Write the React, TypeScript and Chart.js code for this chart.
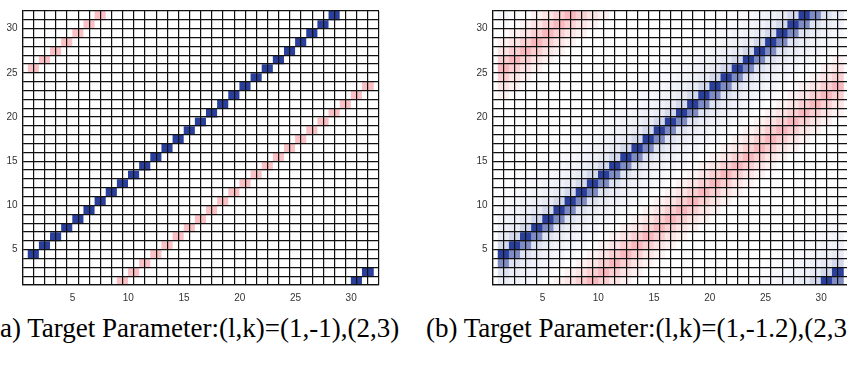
import React, { useEffect, useRef } from 'react';
import { Chart, registerables } from 'chart.js';

Chart.register(...registerables);

// ---------- data ----------
const matrixSize = 32;
const gridValues = [1, 2, 3, 4, 5, 6, 7, 8, 9, 10, 11, 12, 13, 14, 15, 16, 17, 18, 19, 20, 21, 22, 23, 24, 25, 26, 27, 28, 29, 30, 31, 32];
const tickLabels = [5, 10, 15, 20, 25, 30];

// panel (a): one cell per band, located at (row - column) mod 32 = centre
const blueCenter = 3;
const pinkCenter = 24;
const blueOffsetsA = [0];
const blueValuesA = [-2];
const pinkOffsetsA = [0];
const pinkValuesA = [1];

// panel (b): spread bands, value per offset from the band centre
const blueOffsetsB = [-6, -5, -4, -3, -2, -1, 0, 1, 2, 3, 4, 5, 6, 7];
const blueValuesB = [-0.05, -0.09, -0.13, -0.19, -0.3, -1.2, -2, -0.4, -0.22, -0.15, -0.11, -0.07, -0.05, -0.03];
const pinkOffsetsB = [-3, -2, -1, 0, 1, 2, 3];
const pinkValuesB = [0.22, 0.42, 0.74, 1.12, 0.74, 0.42, 0.22];

const titleA = '(a) Target Parameter:(l,k)=(1,-1),(2,3)';
const titleB = '(b) Target Parameter:(l,k)=(1,-1.2),(2,3)';

// ---------- colour map ----------
const colorNeg = [42, 62, 155];
const colorPos = [245, 129, 137];
const colorLimit = 2;

function toColor(v: number): string {
  const t = Math.min(1, Math.abs(v) / colorLimit);
  const end = v < 0 ? colorNeg : colorPos;
  const c = end.map((e) => Math.round(255 + t * (e - 255)));
  return `rgb(${c[0]},${c[1]},${c[2]})`;
}

type Band = { center: number; offsets: number[]; values: number[] };

function buildMatrix(bands: Band[]): number[][] {
  const m: number[][] = [];
  for (let y = 1; y <= matrixSize; y++) {
    const row: number[] = [];
    for (let x = 1; x <= matrixSize; x++) {
      const d = (((y - x) % matrixSize) + matrixSize) % matrixSize;
      let v = 0;
      for (const b of bands) {
        let rel = d - b.center;
        rel = ((((rel + matrixSize / 2) % matrixSize) + matrixSize) % matrixSize) - matrixSize / 2;
        const k = b.offsets.indexOf(rel);
        if (k >= 0) v += b.values[k];
      }
      row.push(v);
    }
    m.push(row);
  }
  return m;
}

const matrixA = buildMatrix([
  { center: blueCenter, offsets: blueOffsetsA, values: blueValuesA },
  { center: pinkCenter, offsets: pinkOffsetsA, values: pinkValuesA },
]);
const matrixB = buildMatrix([
  { center: blueCenter, offsets: blueOffsetsB, values: blueValuesB },
  { center: pinkCenter, offsets: pinkOffsetsB, values: pinkValuesB },
]);

const CANVAS_W = 382;
const CANVAS_H = 305;

function axis(isX: boolean) {
  return {
    type: 'linear' as const,
    min: gridValues[0],
    max: gridValues[gridValues.length - 1],
    afterBuildTicks: (s: any) => {
      s.ticks = gridValues.map((v) => ({ value: v }));
    },
    afterFit: (s: any) => {
      if (isX) s.height = 20;
      else s.width = 22.5;
    },
    ticks: {
      autoSkip: false,
      maxRotation: 0,
      minRotation: 0,
      padding: isX ? 7 : 5,
      color: '#333333',
      font: { family: 'Liberation Sans', size: 10 },
      callback: (v: any) => (tickLabels.includes(Number(v)) ? String(v) : ''),
    },
    grid: { color: '#111111', lineWidth: 1.2, drawTicks: false, z: 1 },
    border: { display: true, color: '#111111', width: 1.2, z: 1 },
  };
}

function Panel({ matrix, left }: { matrix: number[][]; left: number }) {
  const ref = useRef<HTMLCanvasElement | null>(null);
  useEffect(() => {
    if (!ref.current) return;
    const data: any[] = [];
    const colors: string[] = [];
    for (let y = 1; y < matrixSize; y++) {
      for (let x = 1; x < matrixSize; x++) {
        data.push({ x: x + 0.5, y: [y, y + 1] });
        colors.push(toColor(matrix[y - 1][x - 1]));
      }
    }
    const chart = new Chart(ref.current, {
      type: 'bar',
      data: {
        datasets: [
          {
            data,
            backgroundColor: colors,
            borderWidth: 0,
            barPercentage: 1,
            categoryPercentage: 1,
          } as any,
        ],
      },
      options: {
        responsive: false,
        animation: false,
        events: [],
        devicePixelRatio: 1,
        layout: { padding: { top: 2.5, right: 3, left: 0, bottom: 0 } },
        plugins: { legend: { display: false }, tooltip: { enabled: false } },
        scales: { x: axis(true) as any, y: axis(false) as any },
      },
    });
    return () => chart.destroy();
  }, [matrix]);
  return (
    <canvas
      ref={ref}
      width={CANVAS_W}
      height={CANVAS_H}
      style={{ position: 'absolute', left, top: 0, width: CANVAS_W, height: CANVAS_H }}
    />
  );
}

const titleStyle: React.CSSProperties = {
  position: 'absolute',
  top: 315,
  fontFamily: '"Liberation Serif", serif',
  fontSize: 27,
  lineHeight: '27px',
  whiteSpace: 'nowrap',
  color: '#000',
};

export default function App() {
  return (
    <div
      style={{
        position: 'fixed',
        left: 0,
        top: 0,
        width: 847,
        height: 367,
        overflow: 'hidden',
        background: '#ffffff',
      }}
    >
      <Panel matrix={matrixA} left={0} />
      <Panel matrix={matrixB} left={470} />
      <div style={{ ...titleStyle, left: -9 }}>{titleA}</div>
      <div style={{ ...titleStyle, left: 426 }}>{titleB}</div>
    </div>
  );
}
